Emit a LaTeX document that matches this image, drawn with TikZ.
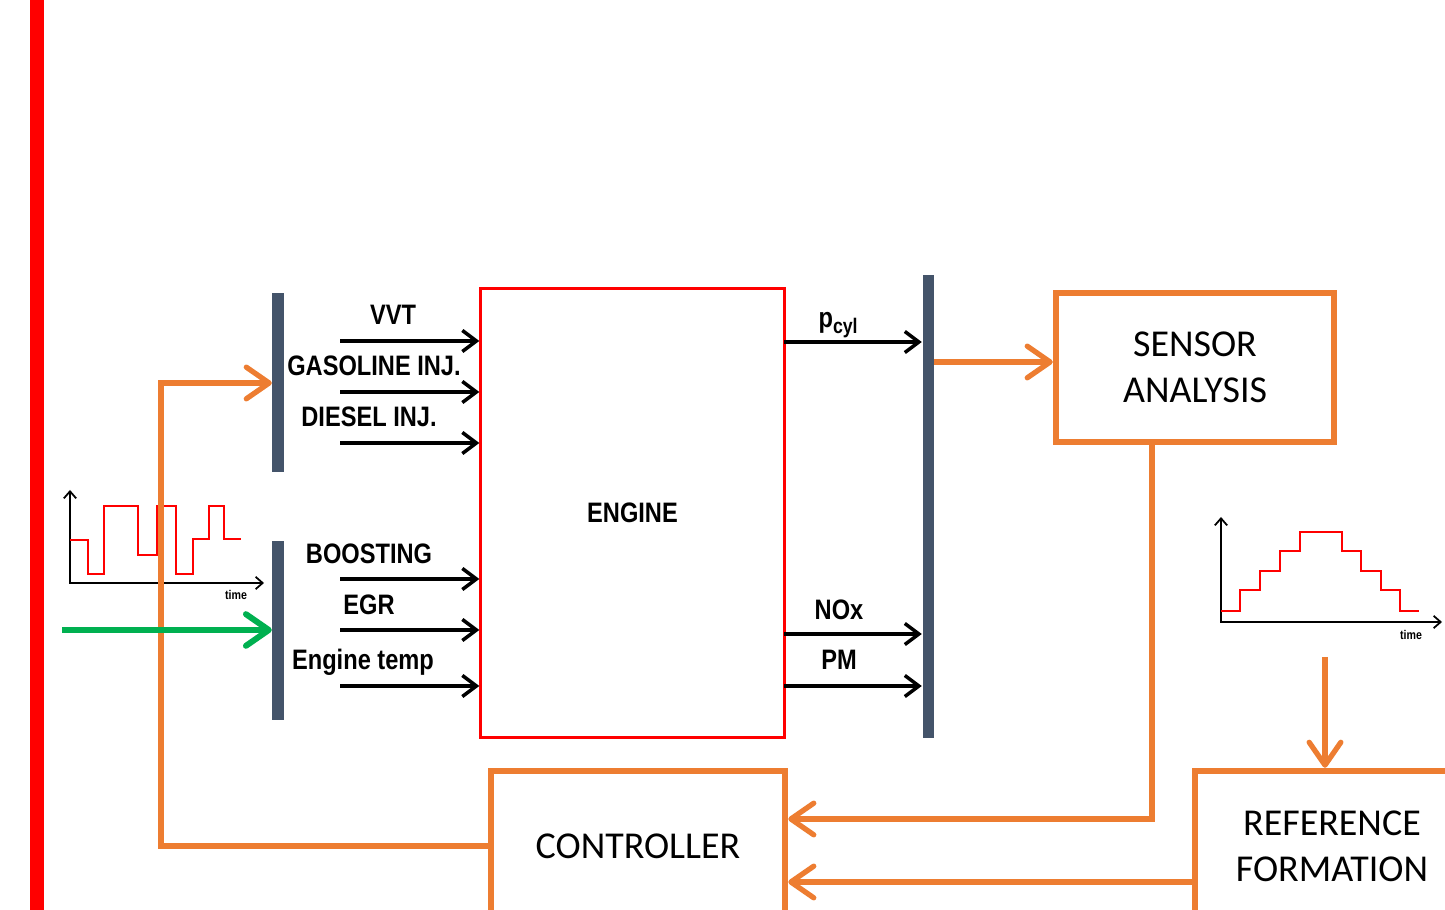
\documentclass[tikz,border=0pt]{standalone}
\usepackage{fontspec}
\usepackage{xcolor}
\usepackage{tikz}
\usetikzlibrary{arrows.meta, positioning, calc}
\newfontfamily\lblfont{Liberation Sans}[FakeStretch=0.84]
\newfontfamily\boxfont{Carlito}
\definecolor{engred}{HTML}{FF0000}
\definecolor{fborange}{HTML}{ED7D31}
\definecolor{barslate}{HTML}{44546A}
\definecolor{ingreen}{HTML}{00B050}

\begin{document}
\begin{tikzpicture}[x=0.01cm, y=-0.01cm]
        \tikzstyle{bar} = [rectangle, fill=barslate, inner sep=0pt, minimum width=0.11cm]
        \tikzstyle{engine} = [rectangle, draw=engred, line width=0.9pt, minimum width=3.03cm, minimum height=4.48cm, font=\lblfont\bfseries\fontsize{8}{9.6}\selectfont]
        \tikzstyle{block} = [rectangle, draw=fborange, line width=1.8pt, align=center, font=\boxfont\fontsize{10.8}{13.1}\selectfont]
        \tikzstyle{lbl} = [anchor=base, inner sep=0pt, font=\lblfont\bfseries\fontsize{8}{9.6}\selectfont]
        \tikzstyle{tinylbl} = [inner sep=0pt, font=\lblfont\bfseries\fontsize{3.6}{4}\selectfont]
        \tikzstyle{arrow} = [line width=1pt, -{Straight Barb[length=4pt, width=6pt]}]
        \tikzstyle{fbarrow} = [draw=fborange, line width=1.5pt, -{Straight Barb[length=6.5pt, width=9pt, round]}]
        \tikzstyle{axis} = [line width=0.5pt, {Straight Barb[length=2pt, width=3.5pt]}-{Straight Barb[length=2pt, width=3.5pt]}]
        \tikzstyle{sig} = [draw=engred, line width=0.45pt]

        \useasboundingbox (0,0) rectangle (1445,910);
        \clip (0,0) rectangle (1445,910);

        % Left edge
        \fill[engred] (30,0) rectangle (44,910);

        % Engine and bars
        \node (engine) [engine] at (632.5,513) {ENGINE};
        \node (bar1) [bar, minimum height=1.79cm] at (278,382.5) {};
        \node (bar2) [bar, minimum height=1.79cm] at (278,630.5) {};
        \node (bar3) [bar, minimum height=4.63cm] at (928,506.5) {};

        % Blocks
        \node (sensor) [block, minimum width=2.78cm, minimum height=1.49cm] at (1195,367.5) {SENSOR\\ANALYSIS};
        \node (ctrl) [block, minimum width=2.94cm, minimum height=1.5cm] at (638,846) {CONTROLLER};
        \node (ref) [block, minimum width=2.74cm, minimum height=1.5cm] at (1332,846) {REFERENCE\\FORMATION};

        % Engine inputs
        \coordinate (vvt) at (340,341);
        \coordinate (gas) at (340,392);
        \coordinate (dsl) at (340,443);
        \coordinate (boost) at (340,579);
        \coordinate (egr) at (340,630);
        \coordinate (temp) at (340,686);
        \node (vvtlbl) [lbl] at (393,325) {VVT};
        \node (gaslbl) [lbl] at (374,376) {GASOLINE INJ.};
        \node (dsllbl) [lbl] at (369,427) {DIESEL INJ.};
        \node (boostlbl) [lbl] at (369,564) {BOOSTING};
        \node (egrlbl) [lbl] at (369,615) {EGR};
        \node (templbl) [lbl] at (363,670) {Engine temp};
        \draw [arrow] (vvt) -- (engine.west |- vvt);
        \draw [arrow] (gas) -- (engine.west |- gas);
        \draw [arrow] (dsl) -- (engine.west |- dsl);
        \draw [arrow] (boost) -- (engine.west |- boost);
        \draw [arrow] (egr) -- (engine.west |- egr);
        \draw [arrow] (temp) -- (engine.west |- temp);

        % Engine outputs
        \coordinate (pcyl) at (784,342);
        \coordinate (nox) at (784,634);
        \coordinate (pm) at (784,686);
        \node (pcyllbl) [lbl] at (839,328) {p\textsubscript{cyl}};
        \node (noxlbl) [lbl] at (839,620) {NOx};
        \node (pmlbl) [lbl] at (839,670) {PM};
        \draw [arrow] (pcyl) -- (pcyl -| bar3.west);
        \draw [arrow] (nox) -- (nox -| bar3.west);
        \draw [arrow] (pm) -- (pm -| bar3.west);

        % Disturbance signal
        \draw [axis] (70,490) -- (70,583) -- (264,583);
        \draw [sig] (70,540) -| (88,574) -| (104,506) -| (138,555) -| (157,506) -| (176,574) -| (193,539) -| (209,506) -| (224,539) -- (241,539);
        \node (time1) [tinylbl] at (236,595) {time};

        % Reference signal
        \draw [axis] (1221,517) -- (1221,622) -- (1442,622);
        \draw [sig] (1221,611) -| (1240,590) -| (1260,571) -| (1280,551) -| (1300,532) -| (1342,551) -| (1361,571) -| (1381,590) -| (1400,611) -- (1419,611);
        \node (time2) [tinylbl] at (1411,635) {time};

        % Feedback loop
        \coordinate (tap) at (928,362);
        \coordinate (fbk) at (1152,819);
        \coordinate (refout) at (1195,882);
        \coordinate (refin) at (1325,657);
        \coordinate (act) at (161,383);
        \draw [fbarrow] (bar3.east |- tap) -- (sensor.west |- tap);
        \draw [fbarrow] (sensor.south -| fbk) -- (fbk) -- (ctrl.east |- fbk);
        \draw [fbarrow] (ref.west |- refout) -- (ctrl.east |- refout);
        \draw [fbarrow] (refin) -- (refin |- ref.north);
        \draw [fbarrow] (ctrl.west) -| (act) -- (bar1.west |- act);

        % Disturbance input
        \coordinate (dist) at (62,630);
        \draw [line width=1.7pt, ingreen, -{Straight Barb[length=6.5pt, width=9pt, round]}] (dist) -- (bar2.west |- dist);
    \end{tikzpicture}
\end{document}
